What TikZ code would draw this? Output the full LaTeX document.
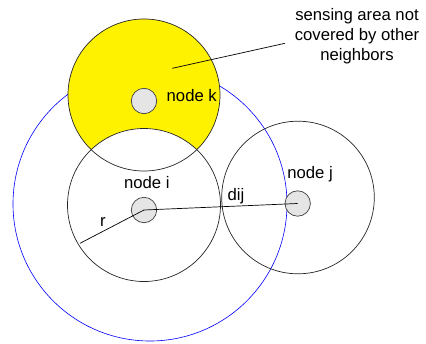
\documentclass[tikz,border=0pt]{standalone}
\usepackage{fontspec}
\setmainfont{Liberation Sans}
\usetikzlibrary{calc}

\begin{document}
\begin{tikzpicture}[x=1pt,y=-1pt,
  sensor/.style={circle,draw=black!75,fill=black!10,line width=0.7pt,minimum size=25.4pt,inner sep=0pt},
  lbl/.style={font=\fontsize{16.7}{20}\selectfont,inner sep=0pt},
  senserange/.style={draw=black!85,line width=0.7pt}]

\useasboundingbox (0,0) rectangle (426,343);

% Blue range of node i
\draw[blue, line width=0.6pt] (150,204) circle (137pt);

% Uncovered sensing area of node k
\fill[yellow] (144,95) circle (76pt);
% Sensing area of node i on top
\fill[white] (144,205) circle (76.5pt);

% Outlines
\draw[senserange] (144,95) circle (76pt);
\draw[senserange] (144,205) circle (76.5pt);
\draw[senserange] (298,197.5) circle (76.3pt);

% Sensor nodes
\node[sensor] (nk) at (144,101) {};
\node[sensor] (ni) at (144,210) {};
\node[sensor] (nj) at (297.7,203.5) {};

% Distance and radius
\coordinate (rend) at (80,243.3);
\draw[line width=0.7pt] (ni.center) -- (nj.center);
\draw[line width=0.7pt] (ni.center) -- (rend);

% Labels
\node[lbl, anchor=west] (lk) at (166.5,96) {node k};
\node[lbl] (li) at (146.8,183) {node i};
\node[lbl] (lj) at (310,174) {node j};
\node[lbl] (ld) at (236,196) {dij};
\node[lbl] (lr) at (103,221.7) {r};

% Note
\node[lbl, align=center] (note) at (357,36.5) {sensing area not\\covered by other\\neighbors};
\coordinate (tip) at (172.3,68.3);
\coordinate (tail) at (285,43.3);
\draw[line width=0.7pt] (tip) -- (tail);

\end{tikzpicture}
\end{document}
